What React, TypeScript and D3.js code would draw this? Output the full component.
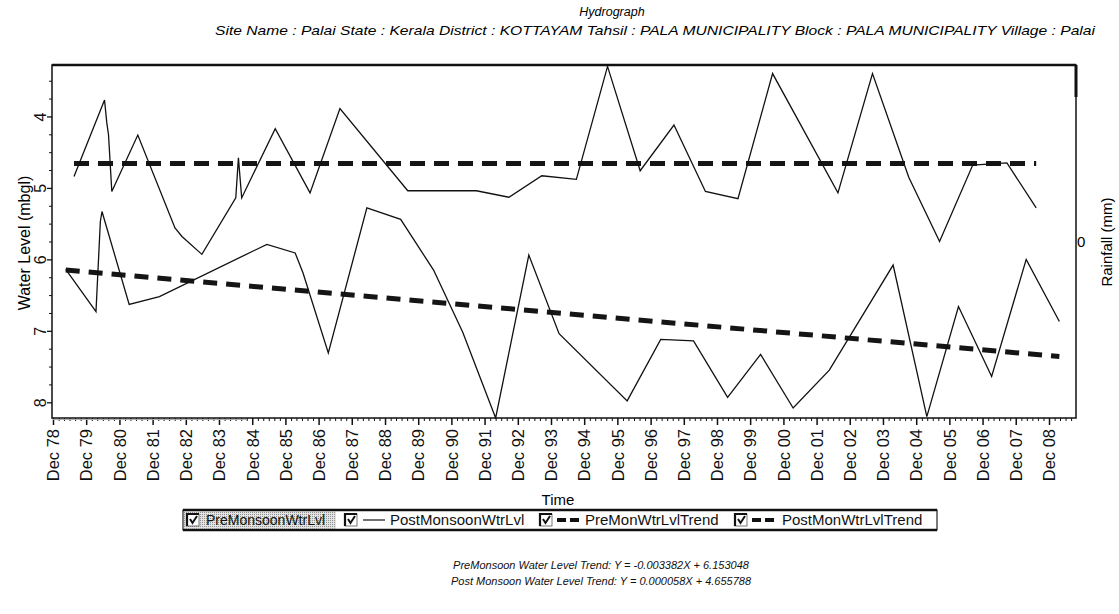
import React, { useRef, useEffect } from 'react';
import * as d3 from 'd3';

// (dates of the vertices, water level in mbgl)
const postDates = [
    '1979-07-20', '1980-06-20', '1980-07-15', '1980-08-03', '1980-09-08', '1981-06-21',
    '1982-08-04', '1982-10-20', '1983-05-27', '1984-06-03', '1984-07-02', '1984-08-07',
    '1985-08-11', '1986-08-29', '1987-07-24', '1989-08-08', '1991-09-02', '1992-08-25',
    '1993-08-22', '1994-09-06', '1995-08-15', '1996-08-08', '1997-08-15', '1998-07-27',
    '1999-07-20', '2000-08-04', '2002-07-24', '2003-08-08', '2004-09-10', '2005-08-15',
    '2006-08-15', '2007-08-26', '2008-07-13',
];
const postLevels = [
    4.84, 3.77, 4.09, 4.26, 5.05, 4.26,
    5.56, 5.68, 5.93, 5.14, 4.58, 5.14,
    4.17, 5.07, 3.89, 5.04, 5.04, 5.13,
    4.83, 4.88, 3.3, 4.76, 4.12, 5.05,
    5.15, 3.4, 5.07, 3.4, 4.85, 5.75,
    4.68, 4.65, 5.28,
];

const preDates = [
    '1979-04-20', '1980-03-18', '1980-05-05', '1980-05-23', '1981-03-18', '1982-02-14',
    '1985-05-11', '1986-03-18', '1986-06-13', '1987-03-18', '1988-05-15', '1989-05-22',
    '1990-05-19', '1991-04-05', '1992-04-01', '1993-04-01', '1994-02-28', '1996-03-18',
    '1997-03-22', '1998-03-18', '1999-03-28', '2000-03-25', '2001-03-18', '2002-04-20',
    '2004-03-22', '2005-03-28', '2006-03-11', '2007-03-11', '2008-03-25', '2009-03-25',
];
const preLevels = [
    6.14, 6.73, 5.47, 5.33, 6.63, 6.52,
    5.79, 5.91, 6.19, 7.31, 5.28, 5.44,
    6.15, 7.02, 8.22, 5.94, 7.04, 7.98,
    7.12, 7.14, 7.93, 7.33, 8.08, 7.55,
    6.08, 8.2, 6.66, 7.64, 6.0, 6.87,
];

// trend lines, value at first and last reading
const preTrendLevels = [6.15, 7.36];
const postTrendLevels = [4.66, 4.66];

const yTicks = [4, 5, 6, 7, 8];
const legendLabels = ['PreMonsoonWtrLvl', 'PostMonsoonWtrLvl', 'PreMonWtrLvlTrend', 'PostMonWtrLvlTrend'];
const trendNotes = [
    'PreMonsoon Water Level Trend: Y = -0.003382X + 6.153048',
    'Post Monsoon Water Level Trend: Y = 0.000058X + 4.655788',
];
const titleText = 'Hydrograph';
const subtitleText =
    'Site Name : Palai  State : Kerala District : KOTTAYAM  Tahsil : PALA MUNICIPALITY  Block : PALA MUNICIPALITY Village : Palai';

const Hydrograph = ({ width, height }: { width: number; height: number }) => {
    const svgRef = useRef<SVGSVGElement | null>(null);

    useEffect(() => {
        const svg = d3.select(svgRef.current);
        const margin = { top: 65, right: 43, bottom: 196, left: 52 };
        const font = '"Liberation Sans", Arial, sans-serif';

        svg.selectAll('*').remove();

        const parse = d3.timeParse('%Y-%m-%d');
        const pre = preDates.map((d, i) => ({ date: parse(d) as Date, v: preLevels[i] }));
        const post = postDates.map((d, i) => ({ date: parse(d) as Date, v: postLevels[i] }));

        const xScale = d3
            .scaleTime()
            .domain([new Date(1978, 10, 20), new Date(2009, 8, 24)])
            .range([margin.left, width - margin.right]);

        const yScale = d3
            .scaleLinear()
            .domain([3.28, 8.22])
            .range([margin.top, height - margin.bottom]);

        const plotW = width - margin.left - margin.right;
        const plotH = height - margin.top - margin.bottom;
        const midX = margin.left + plotW / 2;

        // dither pattern for the selected legend entry
        const defs = svg.append('defs');
        const pat = defs
            .append('pattern')
            .attr('id', 'dither')
            .attr('width', 2)
            .attr('height', 2)
            .attr('patternUnits', 'userSpaceOnUse');
        pat.append('rect').attr('width', 2).attr('height', 2).attr('fill', '#e4e4e4');
        pat.append('rect').attr('width', 1).attr('height', 1).attr('fill', '#909090');
        defs.append('clipPath')
            .attr('id', 'plot-clip')
            .append('rect')
            .attr('x', margin.left)
            .attr('y', margin.top - 1)
            .attr('width', plotW)
            .attr('height', plotH + 2);

        // titles
        svg.append('text')
            .attr('x', 612)
            .attr('y', 16)
            .attr('text-anchor', 'middle')
            .attr('font-family', font)
            .attr('font-style', 'italic')
            .attr('font-size', 12.5)
            .text(titleText);
        svg.append('text')
            .attr('x', 215)
            .attr('y', 35)
            .attr('font-family', font)
            .attr('font-style', 'italic')
            .attr('font-size', 13.5)
            .attr('textLength', 880)
            .attr('lengthAdjust', 'spacingAndGlyphs')
            .text(subtitleText);

        // x axis: yearly Dec ticks + minor ticks
        const months = d3.timeMonths(xScale.domain()[0], xScale.domain()[1]);
        const majors = months.filter((d) => d.getMonth() === 11);
        const minors = months.filter((d) => d.getMonth() % 2 === 1 && d.getMonth() !== 11);

        const xAxis = svg
            .append('g')
            .attr('transform', `translate(0,${height - margin.bottom})`)
            .call(d3.axisBottom(xScale).tickValues(majors).tickFormat(d3.timeFormat('%b %y') as any).tickSize(7).tickSizeOuter(0));
        xAxis.select('.domain').remove();
        xAxis.selectAll('line').attr('stroke', '#111').attr('stroke-width', 1.5);
        xAxis
            .selectAll('text')
            .attr('font-family', font)
            .attr('font-size', 16.5)
            .attr('fill', '#111')
            .attr('text-anchor', 'end')
            .attr('transform', 'rotate(-90)')
            .attr('x', -11)
            .attr('y', 0)
            .attr('dy', '0.35em');

        const xMinor = svg
            .append('g')
            .attr('transform', `translate(0,${height - margin.bottom})`)
            .call(d3.axisBottom(xScale).tickValues(minors).tickFormat(() => '').tickSize(3).tickSizeOuter(0));
        xMinor.select('.domain').remove();
        xMinor.selectAll('line').attr('stroke', '#111');

        // y axis
        const yAxis = svg
            .append('g')
            .attr('transform', `translate(${margin.left},0)`)
            .call(d3.axisLeft(yScale).tickValues(yTicks).tickFormat(d3.format('d') as any).tickSize(5).tickSizeOuter(0));
        yAxis.select('.domain').remove();
        yAxis.selectAll('line').attr('stroke', '#111').attr('stroke-width', 1.3);
        yAxis
            .selectAll('text')
            .attr('font-family', font)
            .attr('font-size', 16)
            .attr('fill', '#111')
            .attr('text-anchor', 'middle')
            .attr('x', 0)
            .attr('y', 0)
            .attr('dy', 0)
            .attr('transform', 'translate(-6,0) rotate(-90)');

        const yMinorVals = d3.range(3.5, 8.01, 0.25).filter((v) => !yTicks.includes(v));
        const yMinor = svg
            .append('g')
            .attr('transform', `translate(${margin.left},0)`)
            .call(d3.axisLeft(yScale).tickValues(yMinorVals).tickFormat(() => '').tickSize(3).tickSizeOuter(0));
        yMinor.select('.domain').remove();
        yMinor.selectAll('line').attr('stroke', '#111');

        // axis titles
        svg.append('text')
            .attr('transform', `translate(30,243) rotate(-90)`)
            .attr('text-anchor', 'middle')
            .attr('font-family', font)
            .attr('font-size', 16)
            .text('Water Level (mbgl)');
        svg.append('text')
            .attr('transform', `translate(1112,242) rotate(-90)`)
            .attr('text-anchor', 'middle')
            .attr('font-family', font)
            .attr('font-size', 15)
            .text('Rainfall (mm)');
        svg.append('text')
            .attr('x', 1077)
            .attr('y', 247)
            .attr('font-family', font)
            .attr('font-size', 15)
            .text('0');
        svg.append('text')
            .attr('x', midX - 6)
            .attr('y', 505)
            .attr('text-anchor', 'middle')
            .attr('font-family', font)
            .attr('font-size', 15)
            .text('Time');

        // lines
        const plot = svg.append('g').attr('clip-path', 'url(#plot-clip)');
        const line = d3
            .line<{ date: Date; v: number }>()
            .x((d) => xScale(d.date))
            .y((d) => yScale(d.v));

        const trend = (series: { date: Date }[], vals: number[]) => [
            { date: series[0].date, v: vals[0] },
            { date: series[series.length - 1].date, v: vals[1] },
        ];

        plot.append('path')
            .attr('d', line(trend(pre, preTrendLevels)))
            .attr('fill', 'none')
            .attr('stroke', '#151515')
            .attr('stroke-width', 5)
            .attr('stroke-dasharray', '14 9');
        plot.append('path')
            .attr('d', line(trend(post, postTrendLevels)))
            .attr('fill', 'none')
            .attr('stroke', '#151515')
            .attr('stroke-width', 5)
            .attr('stroke-dasharray', '15 9');

        plot.append('path')
            .attr('d', line(pre))
            .attr('fill', 'none')
            .attr('stroke', '#111')
            .attr('stroke-width', 1.3);
        plot.append('path')
            .attr('d', line(post))
            .attr('fill', 'none')
            .attr('stroke', '#111')
            .attr('stroke-width', 1.3);

        // frame
        svg.append('rect')
            .attr('x', margin.left)
            .attr('y', margin.top)
            .attr('width', plotW)
            .attr('height', plotH)
            .attr('fill', 'none')
            .attr('stroke', '#111')
            .attr('stroke-width', 1.5);
        svg.append('line')
            .attr('x1', margin.left)
            .attr('x2', width - margin.right)
            .attr('y1', margin.top)
            .attr('y2', margin.top)
            .attr('stroke', '#111')
            .attr('stroke-width', 2.5);
        // heavier stub on the rainfall axis, as in the scan
        svg.append('line')
            .attr('x1', width - margin.right)
            .attr('x2', width - margin.right)
            .attr('y1', margin.top)
            .attr('y2', margin.top + 32)
            .attr('stroke', '#111')
            .attr('stroke-width', 3);
        svg.append('line')
            .attr('x1', margin.left + 1)
            .attr('x2', margin.left + 195)
            .attr('y1', margin.top + plotH + 1.5)
            .attr('y2', margin.top + plotH + 1.5)
            .attr('stroke', '#b0b0b0')
            .attr('stroke-width', 1);

        // legend
        const lgX = 183;
        const lgY = 510;
        const lgW = 754;
        const lgH = 20;
        const lg = svg.append('g');
        lg.append('rect')
            .attr('x', lgX)
            .attr('y', lgY)
            .attr('width', lgW)
            .attr('height', lgH)
            .attr('fill', '#fff')
            .attr('stroke', '#222')
            .attr('stroke-width', 1.2);
        lg.append('rect')
            .attr('x', lgX + 1)
            .attr('y', lgY + 1.5)
            .attr('width', 152)
            .attr('height', lgH - 3)
            .attr('fill', 'url(#dither)');
        lg.append('line')
            .attr('x1', lgX).attr('x2', lgX + lgW)
            .attr('y1', lgY).attr('y2', lgY)
            .attr('stroke', '#111').attr('stroke-width', 2.5);
        lg.append('line')
            .attr('x1', lgX).attr('x2', lgX + lgW)
            .attr('y1', lgY + lgH).attr('y2', lgY + lgH)
            .attr('stroke', '#111').attr('stroke-width', 2.5);

        const boxX = [187, 345, 540, 735];
        const textX = [206, 390, 585, 782];
        const textSize = [14, 15, 15, 15];
        const rowY = lgY + lgH / 2;

        legendLabels.forEach((label, i) => {
            const bx = boxX[i];
            const item = lg.append('g');
            item.append('rect')
                .attr('x', bx)
                .attr('y', rowY - 6)
                .attr('width', 12)
                .attr('height', 12)
                .attr('fill', '#fff')
                .attr('stroke', '#555')
                .attr('stroke-width', 0.8);
            item.append('path')
                .attr('d', `M${bx},${rowY + 6}V${rowY - 6}H${bx + 12}`)
                .attr('fill', 'none')
                .attr('stroke', '#111')
                .attr('stroke-width', 2.2);
            item.append('path')
                .attr('d', `M${bx + 3},${rowY - 1}L${bx + 5.5},${rowY + 3}L${bx + 10},${rowY - 4}`)
                .attr('fill', 'none')
                .attr('stroke', '#111')
                .attr('stroke-width', 2);

            if (i === 1) {
                item.append('line')
                    .attr('x1', bx + 18).attr('x2', textX[i] - 5)
                    .attr('y1', rowY).attr('y2', rowY)
                    .attr('stroke', '#111')
                    .attr('stroke-width', 1.2);
            } else if (i > 1) {
                item.append('line')
                    .attr('x1', bx + 17).attr('x2', textX[i] - 6)
                    .attr('y1', rowY).attr('y2', rowY)
                    .attr('stroke', '#111')
                    .attr('stroke-width', 4)
                    .attr('stroke-dasharray', '9 4');
            }
            item.append('text')
                .attr('x', textX[i])
                .attr('y', rowY + 5)
                .attr('font-family', font)
                .attr('font-size', textSize[i])
                .attr('fill', '#111')
                .text(label);
        });

        // trend equations
        svg.append('g')
            .selectAll('text')
            .data(trendNotes)
            .join('text')
            .attr('x', 601)
            .attr('y', (d, i) => 569 + i * 16)
            .attr('text-anchor', 'middle')
            .attr('font-family', font)
            .attr('font-style', 'italic')
            .attr('font-size', 11)
            .attr('fill', '#111')
            .text((d) => d);
    }, [width, height]);

    return (
        <svg
            ref={svgRef}
            width={width}
            height={height}
            style={{ position: 'absolute', left: 0, top: 0, background: '#fff' }}
        ></svg>
    );
};

const App = () => <Hydrograph width={1119} height={614} />;

export default App;
